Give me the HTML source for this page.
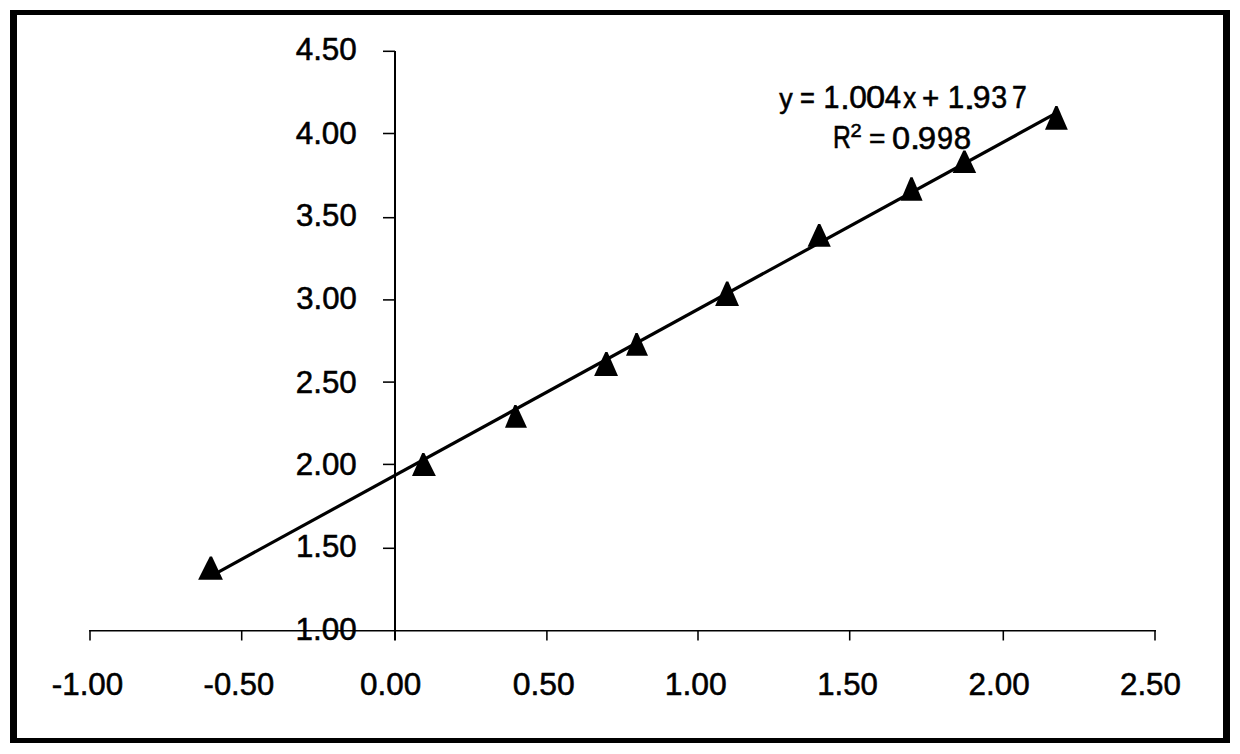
<!DOCTYPE html>
<html><head><meta charset="utf-8"><style>
html,body{margin:0;padding:0;background:#fff;}
body{width:1240px;height:754px;overflow:hidden;position:relative;}
svg{position:absolute;left:0;top:0;}
text{font-family:"Liberation Sans",sans-serif;fill:#000;stroke:#000;}
</style></head><body>
<svg width="1240" height="754" viewBox="0 0 1240 754">
<rect x="0" y="0" width="1240" height="754" fill="#fff"/>
<path d="M10,10 H1230 V743 H10 Z M17,15 V738 H1223 V15 Z" fill="#000" fill-rule="evenodd"/>
<line x1="395" y1="50.9" x2="395" y2="640.5" stroke="#000" stroke-width="2"/>
<line x1="89.2" y1="630.8" x2="1156" y2="630.8" stroke="#000" stroke-width="1.55"/>
<line x1="383" y1="51.3" x2="395" y2="51.3" stroke="#000" stroke-width="1.55"/>
<line x1="383" y1="133.5" x2="395" y2="133.5" stroke="#000" stroke-width="1.55"/>
<line x1="383" y1="217.7" x2="395" y2="217.7" stroke="#000" stroke-width="1.55"/>
<line x1="383" y1="299.9" x2="395" y2="299.9" stroke="#000" stroke-width="1.55"/>
<line x1="383" y1="382.1" x2="395" y2="382.1" stroke="#000" stroke-width="1.55"/>
<line x1="383" y1="464.4" x2="395" y2="464.4" stroke="#000" stroke-width="1.55"/>
<line x1="383" y1="548.3" x2="395" y2="548.3" stroke="#000" stroke-width="1.55"/>
<line x1="90" y1="630" x2="90" y2="640.5" stroke="#000" stroke-width="1.55"/>
<line x1="241.7" y1="630" x2="241.7" y2="640.5" stroke="#000" stroke-width="1.55"/>
<line x1="546.9" y1="630" x2="546.9" y2="640.5" stroke="#000" stroke-width="1.55"/>
<line x1="698" y1="630" x2="698" y2="640.5" stroke="#000" stroke-width="1.55"/>
<line x1="849.7" y1="630" x2="849.7" y2="640.5" stroke="#000" stroke-width="1.55"/>
<line x1="1003.3" y1="630" x2="1003.3" y2="640.5" stroke="#000" stroke-width="1.55"/>
<line x1="1155" y1="630" x2="1155" y2="640.5" stroke="#000" stroke-width="1.55"/>
<line x1="211.5" y1="575.80" x2="1057.5" y2="112.45" stroke="#000" stroke-width="3.2"/>
<polygon points="209.80,556.50 212.00,556.50 222.90,579.70 198.10,579.70" fill="#000"/>
<polygon points="422.20,452.90 424.40,452.90 435.90,476.10 412.00,476.10" fill="#000"/>
<polygon points="514.30,405.00 516.50,405.00 527.00,427.70 505.00,427.70" fill="#000"/>
<polygon points="605.30,352.00 607.50,352.00 618.00,375.90 594.10,375.90" fill="#000"/>
<polygon points="635.50,333.00 637.70,333.00 648.00,355.70 626.00,355.70" fill="#000"/>
<polygon points="726.10,281.50 728.30,281.50 739.00,305.90 715.10,305.90" fill="#000"/>
<polygon points="818.10,224.00 820.30,224.00 830.80,246.80 807.60,246.80" fill="#000"/>
<polygon points="910.40,177.30 912.60,177.30 922.60,200.70 900.50,200.70" fill="#000"/>
<polygon points="963.30,150.50 965.50,150.50 976.20,172.90 952.60,172.90" fill="#000"/>
<polygon points="1055.30,106.00 1057.50,106.00 1067.80,129.70 1045.00,129.70" fill="#000"/>
<text transform="translate(295.65,59.87) scale(1.0143,1.0000)" font-size="31.0" stroke-width="0.546">4.50</text>
<text transform="translate(295.65,143.57) scale(1.0143,1.0000)" font-size="31.0" stroke-width="0.546">4.00</text>
<text transform="translate(296.09,226.32) scale(1.0053,1.0000)" font-size="31.0" stroke-width="0.549">3.50</text>
<text transform="translate(296.19,308.57) scale(1.0036,1.0000)" font-size="31.0" stroke-width="0.549">3.00</text>
<text transform="translate(295.80,392.82) scale(1.0102,1.0000)" font-size="31.0" stroke-width="0.547">2.50</text>
<text transform="translate(295.80,474.67) scale(1.0102,1.0000)" font-size="31.0" stroke-width="0.547">2.00</text>
<text transform="translate(296.00,557.12) scale(1.0068,1.0000)" font-size="31.0" stroke-width="0.548">1.50</text>
<text transform="translate(295.58,639.72) scale(1.0139,1.0000)" font-size="31.0" stroke-width="0.546">1.00</text>
<text transform="translate(51.78,694.77) scale(1.0115,1.0000)" font-size="31.0" stroke-width="0.547">-1.00</text>
<text transform="translate(203.60,694.77) scale(0.9982,1.0000)" font-size="31.0" stroke-width="0.550">-0.50</text>
<text transform="translate(359.95,694.77) scale(1.0145,1.0000)" font-size="31.0" stroke-width="0.546">0.00</text>
<text transform="translate(512.73,694.77) scale(1.0283,1.0000)" font-size="31.0" stroke-width="0.542">0.50</text>
<text transform="translate(664.75,694.77) scale(1.0280,1.0000)" font-size="31.0" stroke-width="0.542">1.00</text>
<text transform="translate(817.30,694.77) scale(1.0051,1.0000)" font-size="31.0" stroke-width="0.549">1.50</text>
<text transform="translate(968.59,694.77) scale(1.0136,1.0000)" font-size="31.0" stroke-width="0.546">2.00</text>
<text transform="translate(1120.00,694.77) scale(1.0102,1.0000)" font-size="31.0" stroke-width="0.547">2.50</text>
<text transform="translate(779.21,108.07) scale(0.8689,0.9096)" font-size="31.0" stroke-width="0.618">y</text>
<text transform="translate(800.03,108.31) scale(0.8200,0.9760)" font-size="31.0" stroke-width="0.612">=</text>
<text transform="translate(823.59,108.38) scale(0.9240,1.0128)" font-size="31.0" stroke-width="0.568">1</text>
<text transform="translate(840.36,108.72) scale(1.1011,1.0407)" font-size="31.0" stroke-width="0.514">.</text>
<text transform="translate(849.14,108.08) scale(1.0223,0.9841)" font-size="31.0" stroke-width="0.548">0</text>
<text transform="translate(865.93,108.08) scale(1.1101,0.9841)" font-size="31.0" stroke-width="0.525">0</text>
<text transform="translate(884.80,108.38) scale(0.9442,1.0128)" font-size="31.0" stroke-width="0.562">4</text>
<text transform="translate(903.28,108.32) scale(0.8334,0.9250)" font-size="31.0" stroke-width="0.626">x</text>
<text transform="translate(921.93,109.05) scale(0.9528,0.9989)" font-size="31.0" stroke-width="0.564">+</text>
<text transform="translate(947.82,108.38) scale(0.9539,1.0128)" font-size="31.0" stroke-width="0.559">1</text>
<text transform="translate(963.30,108.72) scale(1.4399,1.0407)" font-size="31.0" stroke-width="0.443">.</text>
<text transform="translate(972.78,108.08) scale(1.0301,0.9841)" font-size="31.0" stroke-width="0.546">9</text>
<text transform="translate(991.29,108.08) scale(0.9219,0.9841)" font-size="31.0" stroke-width="0.577">3</text>
<text transform="translate(1011.92,108.38) scale(0.8551,1.0128)" font-size="31.0" stroke-width="0.589">7</text>
<text transform="translate(833.05,148.42) scale(0.7959,0.9870)" font-size="31.0" stroke-width="0.617">R</text>
<text transform="translate(868.90,148.24) scale(0.9063,0.8859)" font-size="31.0" stroke-width="0.614">=</text>
<text transform="translate(891.90,148.72) scale(1.0493,1.0001)" font-size="31.0" stroke-width="0.537">0</text>
<text transform="translate(909.67,149.22) scale(1.2366,1.0407)" font-size="31.0" stroke-width="0.483">.</text>
<text transform="translate(917.73,148.72) scale(1.0650,1.0001)" font-size="31.0" stroke-width="0.533">9</text>
<text transform="translate(936.92,148.72) scale(0.9323,1.0001)" font-size="31.0" stroke-width="0.569">9</text>
<text transform="translate(953.72,148.72) scale(1.0071,1.0001)" font-size="31.0" stroke-width="0.548">8</text>
<text transform="translate(850.56,137.42) scale(0.6479,0.6075)" font-size="31.0" stroke-width="0.876">2</text>
</svg>
</body></html>
